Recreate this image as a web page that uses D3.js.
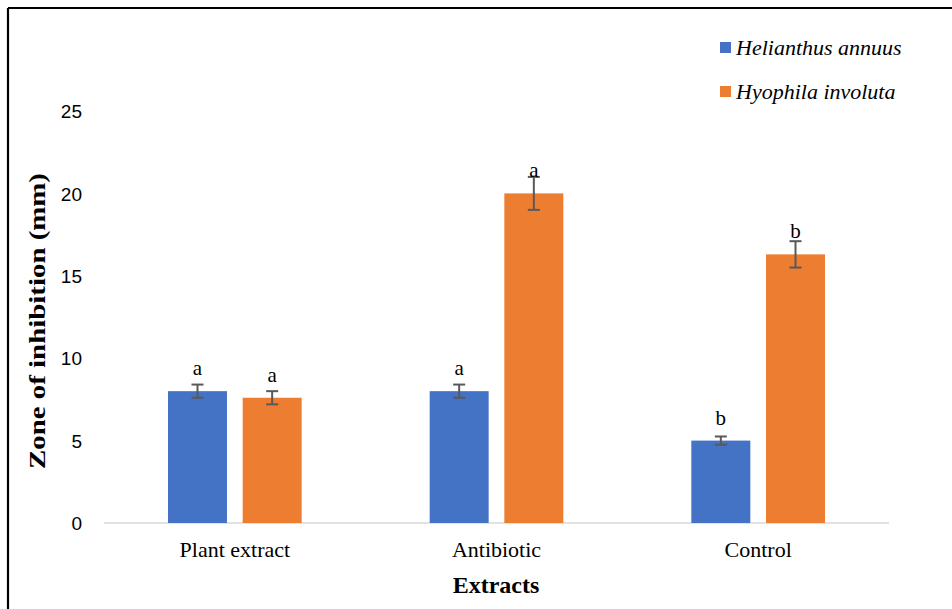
<!DOCTYPE html>
<html>
<head>
<meta charset="utf-8">
<script src="https://cdn.jsdelivr.net/npm/d3@7"></script>
<style>
  html, body { margin: 0; padding: 0; background: #fff; }
  svg { display: block; }
  .serif { font-family: "Liberation Serif", "Times New Roman", Times, serif; }
  .sans { font-family: "Liberation Sans", Arial, sans-serif; }
</style>
</head>
<body>
<svg id="chart" width="952" height="609"></svg>
<script>
const categories = ["Plant extract", "Antibiotic", "Control"];
const seriesNames = ["Helianthus annuus", "Hyophila involuta"];
const helianthusValues = [8.0, 8.0, 5.0];
const hyophilaValues = [7.6, 20.0, 16.3];
const helianthusErrors = [0.4, 0.4, 0.25];
const hyophilaErrors = [0.4, 1.0, 0.8];
const helianthusLetters = ["a", "a", "b"];
const hyophilaLetters = ["a", "a", "b"];
const yTicks = [0, 5, 10, 15, 20, 25];
const colors = ["#4472C4", "#ED7D31"];

const series = [
  { name: seriesNames[0], values: helianthusValues, errors: helianthusErrors, letters: helianthusLetters, color: colors[0] },
  { name: seriesNames[1], values: hyophilaValues, errors: hyophilaErrors, letters: hyophilaLetters, color: colors[1] }
];

const svg = d3.select("#chart");

// outer border (top & left visible)
svg.append("line").attr("x1", 8).attr("y1", 8).attr("x2", 952).attr("y2", 8)
  .attr("stroke", "#000").attr("stroke-width", 2.2);
svg.append("line").attr("x1", 8).attr("y1", 8).attr("x2", 8).attr("y2", 609)
  .attr("stroke", "#000").attr("stroke-width", 2.2);

const plotLeft = 104, plotRight = 889, plotTop = 111, plotBottom = 523;

const y = d3.scaleLinear().domain([0, 25]).range([plotBottom, plotTop]);
const x0 = d3.scaleBand().domain(categories).range([plotLeft, plotRight]).padding(0);
const x1 = d3.scaleBand().domain(seriesNames).range([0, x0.bandwidth()])
  .paddingInner(0.21).paddingOuter(0.857);

// y tick labels
const yAxis = d3.axisLeft(y).tickValues(yTicks).tickSize(0).tickPadding(0);
const yg = svg.append("g").attr("transform", `translate(82,0)`).call(yAxis);
yg.attr("font-family", null).attr("font-size", null);
yg.select(".domain").remove();
yg.selectAll("text").attr("class", "sans")
  .style("font-size", "19px").attr("fill", "#000").attr("dy", "0.35em");

// baseline
svg.append("line").attr("x1", plotLeft).attr("x2", plotRight)
  .attr("y1", y(0)).attr("y2", y(0))
  .attr("stroke", "#D9D9D9").attr("stroke-width", 1.5);

// bars
const groups = svg.append("g").selectAll("g").data(series).join("g");
groups.each(function(s) {
  const g = d3.select(this);
  categories.forEach((c, i) => {
    const bx = x0(c) + x1(s.name);
    const bw = x1.bandwidth();
    const v = s.values[i];
    g.append("rect").attr("x", bx).attr("y", y(v))
      .attr("width", bw).attr("height", y(0) - y(v))
      .attr("fill", s.color);
  });
});

// error bars and letters
groups.each(function(s) {
  const g = d3.select(this);
  categories.forEach((c, i) => {
    const cx = x0(c) + x1(s.name) + x1.bandwidth() / 2;
    const v = s.values[i], e = s.errors[i];
    const eg = g.append("g").attr("stroke", "#595959").attr("stroke-width", 2);
    eg.append("line").attr("x1", cx).attr("x2", cx).attr("y1", y(v + e)).attr("y2", y(v - e));
    eg.append("line").attr("x1", cx - 6).attr("x2", cx + 6).attr("y1", y(v + e)).attr("y2", y(v + e));
    eg.append("line").attr("x1", cx - 6).attr("x2", cx + 6).attr("y1", y(v - e)).attr("y2", y(v - e));
    g.append("text").attr("class", "serif").attr("x", cx).attr("y", y(v) - 16)
      .attr("text-anchor", "middle")
      .style("font-size", "21px").attr("fill", "#000")
      .text(s.letters[i]);
  });
});

// x category labels
const xAxis = d3.axisBottom(x0).tickSize(0).tickPadding(0);
const xg = svg.append("g").attr("transform", `translate(0,${y(0)})`).call(xAxis);
xg.attr("font-family", null).attr("font-size", null);
xg.select(".domain").remove();
xg.selectAll("text").attr("class", "serif")
  .style("font-size", "22px").attr("fill", "#000")
  .attr("dy", null).attr("y", 34);

// axis titles
svg.append("text").attr("class", "serif")
  .attr("x", (plotLeft + plotRight) / 2 - 0.5).attr("y", 593)
  .attr("text-anchor", "middle")
  .style("font-weight", "bold").style("font-size", "24px").attr("fill", "#000")
  .text("Extracts");

svg.append("text").attr("class", "serif")
  .attr("transform", `translate(45,321) rotate(-90)`)
  .attr("text-anchor", "middle")
  .attr("textLength", 296).attr("lengthAdjust", "spacingAndGlyphs")
  .style("font-weight", "bold").style("font-size", "23px").attr("fill", "#000")
  .text("Zone of inhibition (mm)");

// legend
const legend = svg.append("g").selectAll("g").data(series).join("g")
  .attr("transform", (d, i) => `translate(720,${42 + i * 44})`);
legend.append("rect").attr("x", 0).attr("y", 0).attr("width", 11).attr("height", 11)
  .attr("fill", d => d.color);
legend.append("text").attr("class", "serif").attr("x", 16).attr("y", 13)
  .style("font-style", "italic").style("font-size", "22px").attr("fill", "#000")
  .text(d => d.name);
</script>
</body>
</html>
